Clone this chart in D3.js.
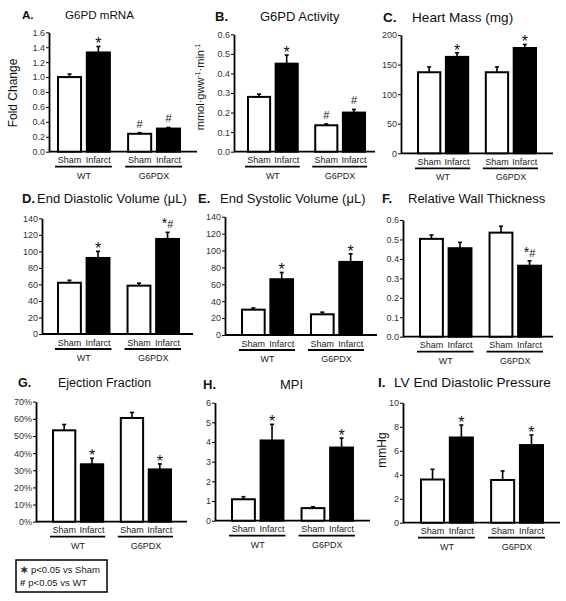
<!DOCTYPE html>
<html><head><meta charset="utf-8">
<script src="https://cdn.jsdelivr.net/npm/d3@7"></script>
<style>body{margin:0;background:#fff}svg{display:block;font-family:"Liberation Sans",Arial,Helvetica,sans-serif}</style>
</head><body><svg id="c" width="566" height="601"></svg>
<script>
// Bar order in every panel: WT Sham, WT Infarct, G6PDX Sham, G6PDX Infarct
const genotypes = ["WT", "G6PDX"];
const conditions = ["Sham", "Infarct"];

const mrnaMean = [1.00, 1.33, 0.24, 0.31];
const mrnaErrTop = [1.04, 1.41, 0.255, 0.325];
const mrnaSig = ["", "*", "#", "#"];
const mrnaTicks = [0, 0.2, 0.4, 0.6, 0.8, 1.0, 1.2, 1.4, 1.6];

const actMean = [0.28, 0.45, 0.135, 0.20];
const actErrTop = [0.294, 0.494, 0.142, 0.216];
const actSig = ["", "*", "#", "#"];
const actTicks = [0, 0.1, 0.2, 0.3, 0.4, 0.5, 0.6];

const massMean = [137, 163, 137, 178];
const massErrTop = [146, 170, 146, 184];
const massSig = ["", "*", "", "*"];
const massTicks = [0, 50, 100, 150, 200];

const edvMean = [62, 92, 58.5, 115];
const edvErrTop = [65, 100, 61.5, 123];
const edvSig = ["", "*", "", "*#"];
const edvTicks = [0, 20, 40, 60, 80, 100, 120, 140];

const esvMean = [30, 66, 24.5, 86.5];
const esvErrTop = [32, 74, 27, 96];
const esvSig = ["", "*", "", "*"];
const esvTicks = [0, 20, 40, 60, 80, 100, 120, 140];

const rwtMean = [0.503, 0.455, 0.535, 0.365];
const rwtErrTop = [0.523, 0.485, 0.568, 0.39];
const rwtSig = ["", "", "", "*#"];
const rwtTicks = [0, 0.1, 0.2, 0.3, 0.4, 0.5, 0.6];

const efMean = [53.3, 33.5, 60.5, 30.5];
const efErrTop = [56.7, 37, 63.7, 33.7];
const efSig = ["", "*", "", "*"];
const efTicks = [0, 10, 20, 30, 40, 50, 60, 70];

const mpiMean = [1.09, 4.08, 0.64, 3.72];
const mpiErrTop = [1.22, 4.9, 0.71, 4.2];
const mpiSig = ["", "*", "", "*"];
const mpiTicks = [0, 1, 2, 3, 4, 5, 6];

const edpMean = [3.6, 7.1, 3.56, 6.47];
const edpErrTop = [4.45, 8.14, 4.31, 7.31];
const edpSig = ["", "*", "", "*"];
const edpTicks = [0, 2, 4, 6, 8, 10];

const legendItems = [["∗", "p<0.05 vs Sham"], ["#", "p<0.05 vs WT"]];

const panels = [
  {letter:"A.", title:"G6PD mRNA", mean:mrnaMean, err:mrnaErrTop, sig:mrnaSig, ticks:mrnaTicks, fmt:d3.format(".1f"),
   ylabel:"Fold Change", L:{ax:49, xEnd:197, yTop:32.3, yBot:151.7, g0:58, g1:180, lx:22, tx:65, ty:18.5, fs:11.6, ylx:13, yly:93}},
  {letter:"B.", title:"G6PD Activity", mean:actMean, err:actErrTop, sig:actSig, ticks:actTicks, fmt:d3.format(".1f"),
   ylabel:"act", L:{ax:234, xEnd:375, yTop:34.3, yBot:151.7, g0:248, g1:365, lx:215, tx:260, ty:20.5, fs:13, ylx:200, yly:87}},
  {letter:"C.", title:"Heart Mass (mg)", mean:massMean, err:massErrTop, sig:massSig, ticks:massTicks, fmt:d3.format("d"),
   ylabel:null, L:{ax:401, xEnd:553, yTop:35, yBot:153.3, g0:418, g1:536, lx:383, tx:412, ty:21.5, fs:13.6}},
  {letter:"D.", title:"End Diastolic Volume (μL)", mean:edvMean, err:edvErrTop, sig:edvSig, ticks:edvTicks, fmt:d3.format("d"),
   ylabel:null, L:{ax:42, xEnd:193, yTop:218.3, yBot:334, g0:58, g1:179, lx:22, tx:37, ty:202.5, fs:13}},
  {letter:"E.", title:"End Systolic Volume (μL)", mean:esvMean, err:esvErrTop, sig:esvSig, ticks:esvTicks, fmt:d3.format("d"),
   ylabel:null, L:{ax:225, xEnd:377, yTop:216.7, yBot:335, g0:242, g1:362, lx:198, tx:220, ty:202.5, fs:13}},
  {letter:"F.", title:"Relative Wall Thickness", mean:rwtMean, err:rwtErrTop, sig:rwtSig, ticks:rwtTicks, fmt:d3.format(".1f"),
   ylabel:null, L:{ax:403, xEnd:553, yTop:220, yBot:336.7, g0:420, g1:541, lx:382, tx:408, ty:202.5, fs:13}},
  {letter:"G.", title:"Ejection Fraction", mean:efMean, err:efErrTop, sig:efSig, ticks:efTicks, fmt:d=>d+"%",
   ylabel:null, L:{ax:36, xEnd:187, yTop:401.7, yBot:521.7, g0:53, g1:171, lx:18, tx:58, ty:387, fs:12.5}},
  {letter:"H.", title:"MPI", mean:mpiMean, err:mpiErrTop, sig:mpiSig, ticks:mpiTicks, fmt:d3.format("d"),
   ylabel:null, L:{ax:215, xEnd:370, yTop:402.7, yBot:520.7, g0:232, g1:353, lx:203, tx:280, ty:388.5, fs:13}},
  {letter:"I.", title:"LV End Diastolic Pressure", mean:edpMean, err:edpErrTop, sig:edpSig, ticks:edpTicks, fmt:d3.format("d"),
   ylabel:"mmHg", L:{ax:403, xEnd:560, yTop:402.7, yBot:522.7, g0:421, g1:543, lx:378, tx:394, ty:387, fs:13.6, ylx:382, yly:450}}
];

const svg = d3.select("#c");
svg.append("rect").attr("width",566).attr("height",601).attr("fill","#fff");

panels.forEach(p => {
  const L = p.L;
  const g = svg.append("g");
  const y = d3.scaleLinear().domain([0, d3.max(p.ticks)]).range([L.yBot, L.yTop]);
  const gx = d3.scaleBand().domain(genotypes).range([L.g0, L.g1]).paddingInner(0.26);
  const cx = d3.scaleBand().domain(conditions).range([0, gx.bandwidth()]).paddingInner(0.2);
  const rows = genotypes.flatMap((gn, gi) => conditions.map((c, ci) => ({gn, c, i: gi*2+ci})));
  const bx = r => gx(r.gn) + cx(r.c);
  const bc = r => bx(r) + cx.bandwidth()/2;

  // title
  g.append("text").attr("x", L.lx).attr("y", L.ty).attr("font-size", L.fs).attr("font-weight","bold").attr("fill","#111").text(p.letter);
  g.append("text").attr("x", L.tx).attr("y", L.ty).attr("font-size", L.fs).attr("fill","#111").text(p.title);

  // y axis
  const ax = g.append("g").attr("transform", `translate(${L.ax},0)`)
    .call(d3.axisLeft(y).tickValues(p.ticks).tickFormat(p.fmt).tickSize(3).tickSizeOuter(0));
  ax.select(".domain").attr("stroke","#000").attr("stroke-width",1.8);
  ax.selectAll(".tick line").attr("stroke","#000").attr("stroke-width",1);
  ax.selectAll(".tick text").attr("font-size",9).attr("fill","#333").attr("font-family",'"Liberation Sans",Arial,sans-serif').attr("x",-4);

  // x axis line
  g.append("line").attr("x1", L.ax).attr("x2", L.xEnd).attr("y1", y(0)).attr("y2", y(0))
    .attr("stroke","#000").attr("stroke-width",1.8);

  // bars
  g.selectAll("rect.bar").data(rows).join("rect").attr("class","bar")
    .attr("x", bx).attr("width", cx.bandwidth())
    .attr("y", r => y(p.mean[r.i])).attr("height", r => y(0) - y(p.mean[r.i]))
    .attr("fill", r => r.c === "Sham" ? "#fff" : "#000")
    .attr("stroke","#000").attr("stroke-width",2);

  // error bars
  g.selectAll("line.eb").data(rows).join("line").attr("class","eb")
    .attr("x1", bc).attr("x2", bc).attr("y1", r => y(p.mean[r.i])).attr("y2", r => y(p.err[r.i]))
    .attr("stroke","#000").attr("stroke-width",1.6);
  g.selectAll("line.cap").data(rows).join("line").attr("class","cap")
    .attr("x1", r => bc(r)-2).attr("x2", r => bc(r)+2).attr("y1", r => y(p.err[r.i])).attr("y2", r => y(p.err[r.i]))
    .attr("stroke","#000").attr("stroke-width",1.6);

  // significance marks
  rows.forEach(r => {
    const s = p.sig[r.i];
    if (!s) return;
    const yt = y(p.err[r.i]);
    const tx = g.append("text").attr("x", bc(r)).attr("text-anchor","middle").attr("fill","#111");
    if (s === "*") {
      tx.attr("y", yt + 3).attr("font-size", 16).text("*");
    } else if (s === "#") {
      tx.attr("y", yt - 5).attr("font-size", 11).text("#");
    } else {
      tx.attr("y", yt - 4);
      tx.append("tspan").attr("font-size", 14).text("*");
      tx.append("tspan").attr("font-size", 11).text("#");
    }
  });

  // category labels
  g.selectAll("text.cond").data(rows).join("text").attr("class","cond")
    .attr("x", bc).attr("y", y(0) + 11.5).attr("text-anchor","middle")
    .attr("font-size", 9).attr("fill","#222").text(r => r.c);
  genotypes.forEach(gn => {
    g.append("line").attr("x1", gx(gn) - 3).attr("x2", gx(gn) + gx.bandwidth() + 2)
      .attr("y1", y(0) + 15).attr("y2", y(0) + 15).attr("stroke","#000").attr("stroke-width",1.8);
    g.append("text").attr("x", gx(gn) + gx.bandwidth()/2).attr("y", y(0) + 27)
      .attr("text-anchor","middle").attr("font-size", 9).attr("fill","#222").text(gn);
  });

  // y label
  if (p.ylabel === "act") {
    const yl = g.append("text").attr("transform", `translate(${L.ylx},${L.yly}) rotate(-90)`)
      .attr("text-anchor","middle").attr("font-size",11).attr("fill","#111").attr("dy","0.35em");
    yl.append("tspan").text("mmol·gww");
    yl.append("tspan").attr("font-size",7).attr("dy","-0.6em").text("-1");
    yl.append("tspan").attr("dy","0.42em").text("·min");
    yl.append("tspan").attr("font-size",7).attr("dy","-0.6em").text("-1");
  } else if (p.ylabel) {
    g.append("text").attr("transform", `translate(${L.ylx},${L.yly}) rotate(-90)`)
      .attr("text-anchor","middle").attr("dy","0.35em").attr("font-size",12).attr("fill","#111").text(p.ylabel);
  }
});

// legend
const lg = svg.append("g");
lg.append("rect").attr("x",16).attr("y",560).attr("width",91).attr("height",32)
  .attr("fill","none").attr("stroke","#000").attr("stroke-width",1.5);
legendItems.forEach((d, i) => {
  const t = lg.append("text").attr("x",20).attr("y",573 + i*13).attr("font-size",9.5).attr("fill","#222");
  t.append("tspan").attr("font-weight","bold").text(d[0]);
  t.append("tspan").attr("dx",3).text(d[1]);
});
</script>
</body></html>
